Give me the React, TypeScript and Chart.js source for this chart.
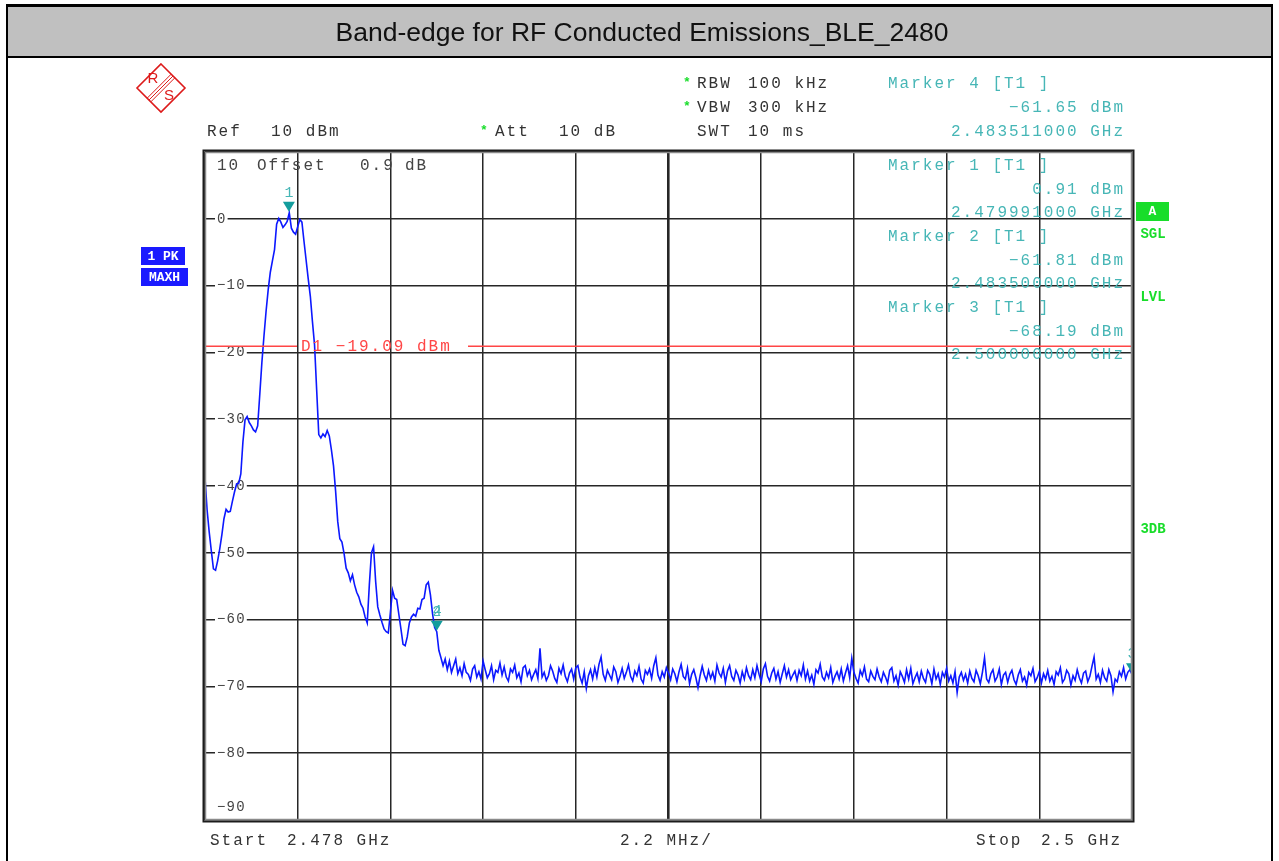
import React, { useEffect, useRef } from "react";
import { Chart, registerables } from "chart.js";

Chart.register(...registerables);

const TITLE = "Band-edge for RF Conducted Emissions_BLE_2480";
const START_MHZ = 2478;
const STOP_MHZ = 2500;
const SWEEP_STEP_MHZ = 0.05;
const X_GRID_MHZ = [2478, 2480.2, 2482.4, 2484.6, 2486.8, 2489, 2491.2, 2493.4, 2495.6, 2497.8, 2500];
const Y_GRID_DBM = [10, 0, -10, -20, -30, -40, -50, -60, -70, -80, -90];
const Y_TICK_LABELS = ["10", "0", "−10", "−20", "−30", "−40", "−50", "−60", "−70", "−80", "−90"];
const DISPLAY_LINE_DBM = -19.09;
const DISPLAY_LINE_LABEL = "D1 −19.09 dBm";
const MARKER_IDS = ["1", "2", "3", "4"];
const MARKER_FREQ_MHZ = [2479.991, 2483.5, 2500, 2483.511];
const MARKER_LEVEL_DBM = [0.91, -61.81, -68.19, -61.65];

// Max-hold trace, one value per sweep point (0.05 MHz apart from 2.478 GHz)
const TRACE_DBM = [
  -38.8, -43.6, -46.9, -49.7, -52.4, -52.6, -51.2, -49.4, -47.3, -44.9,
  -43.5, -43.9, -43.8, -42.3, -40.9, -39.7, -39.6, -38.2, -33.4, -30.1,
  -29.6, -30.5, -31.0, -31.6, -31.9, -31.0, -26.3, -21.5, -17.5, -13.8,
  -10.6, -8.0, -6.3, -4.6, -0.8, 0.05, -0.5, -1.3, -0.9, -0.4,
  0.91, -1.4, -2.0, -2.3, -1.2, -0.1, -0.5, -3.4, -6.2, -9.0,
  -11.6, -15.4, -18.9, -25.6, -32.3, -32.8, -32.2, -32.6, -31.7, -32.5,
  -34.6, -37.0, -40.8, -45.3, -47.9, -48.4, -50.1, -52.3, -53.0, -54.2,
  -53.3, -54.8, -55.9, -56.6, -57.7, -58.3, -59.6, -60.5, -54.8, -50.0,
  -49.1, -54.3, -58.1, -59.3, -60.4, -61.4, -61.8, -62.0, -58.9, -55.6,
  -56.8, -57.0, -59.2, -61.4, -63.7, -63.9, -62.6, -60.5, -59.6, -59.2,
  -59.5, -58.3, -58.4, -57.0, -56.8, -54.8, -54.4, -56.3, -59.1, -61.2,
  -61.81, -64.6, -65.7, -66.9, -65.9, -67.5, -66.2, -67.9, -66.9, -65.9, -68.1,
  -67.2, -68.4, -66.6, -67.9, -68.2, -69.1, -67.4, -66.9, -68.6, -67.8, -68.9, -66.2, -67.5, -68.7, -68.1, -66.9, -69.0, -67.6, -67.9, -66.5,
  -68.3, -67.1, -68.6, -69.2, -67.4, -67.9, -66.8, -68.7, -68.0, -69.3, -67.2, -66.9, -68.4, -67.6, -69.0, -68.2, -67.5, -68.8, -64.3, -68.6,
  -67.9, -69.1, -68.4, -66.9, -67.7, -68.8, -69.4, -67.3, -68.1, -66.8, -68.5, -69.3, -68.0, -67.4, -68.9, -67.2, -66.9, -68.6, -69.5, -67.8,
  -70.3, -68.4, -67.5, -68.9, -67.2, -68.6, -66.7, -65.6, -68.2, -69.1, -67.6, -68.3, -69.0, -67.1, -67.8, -69.4, -68.5, -67.3, -68.8, -67.9,
  -66.8, -68.5, -69.2, -67.7, -68.4, -67.0, -68.9, -69.5, -67.6, -68.2, -67.4, -68.8, -66.9, -65.7, -68.3, -69.1, -67.8, -68.6, -67.2, -68.0,
  -69.0, -67.4, -68.1, -69.3, -67.8, -66.7, -68.5, -68.9, -67.3, -69.6, -68.2, -67.5, -68.7, -70.2, -68.4, -67.0, -68.3, -69.1, -67.6, -68.8,
  -67.9, -69.2, -66.8, -68.0, -68.6, -67.3, -69.4, -67.7, -66.9, -68.5, -69.1, -67.6, -68.3, -69.5, -67.8, -68.9, -67.2, -68.4, -69.0, -67.5,
  -68.7, -66.9, -68.2, -69.3, -67.4, -66.6, -68.5, -69.2, -68.0, -67.3, -68.9, -67.8, -69.4, -68.1, -66.9, -68.6, -67.5, -69.0, -68.3, -67.7,
  -69.1, -67.6, -68.4, -66.8, -68.9, -67.7, -69.2, -68.3, -69.7, -67.5, -68.0, -66.7, -68.6, -69.1, -67.9, -68.7, -67.2, -69.4, -68.5, -67.8,
  -68.9, -67.4, -69.2, -68.0, -66.9, -68.7, -65.8, -67.9, -68.8, -69.5, -67.6, -68.4, -67.1, -68.9, -69.3, -67.7, -68.5, -69.0, -67.4, -68.6,
  -69.3, -67.9, -68.6, -69.5, -67.6, -67.2, -69.2, -68.4, -69.8, -67.8, -68.5, -69.4, -67.5, -68.9, -67.3, -69.6, -68.7, -68.0, -69.3, -67.7,
  -68.8, -69.4, -67.6, -68.2, -69.6, -67.4, -68.9, -68.1, -69.7, -67.9, -68.6, -67.3, -69.2, -68.4, -69.5, -67.8, -70.9, -68.6, -67.9, -69.1,
  -68.2, -69.5, -67.7, -68.8, -69.3, -67.6, -68.4, -69.6, -67.9, -65.7, -68.9, -69.4, -68.1, -67.5, -69.2, -68.6, -67.4, -69.7, -68.3, -67.9,
  -69.4, -68.2, -67.6, -69.0, -69.7, -68.3, -67.5, -69.2, -68.6, -69.8, -67.9, -68.4, -67.3, -69.3, -68.7, -67.8, -69.5, -68.1, -68.9, -67.6,
  -69.2, -68.5, -69.7, -67.8, -68.3, -67.2, -69.4, -68.9, -67.6, -68.1, -69.8, -68.4, -69.1, -67.5, -68.7, -69.5, -68.0, -67.7, -69.3, -68.5,
  -67.0, -65.6, -68.9, -68.2, -69.4, -67.6, -68.7, -69.2, -67.5, -68.4, -70.8, -68.9, -69.3, -67.8, -68.5, -67.2, -68.9, -67.9, -67.5, -68.19,
];

const MONO = '"Liberation Mono", "DejaVu Sans Mono", monospace';
const SANS = '"Liberation Sans", Arial, sans-serif';
const DARK = "#333333";
const TEAL = "#46b6b6";
const TEAL_MARK = "#139d9d";
const GREEN = "#18dd2a";
const BLUE_BOX = "#1a1aff";
const RED = "#ff4646";

function fmtLevel(v: number) {
  return v.toFixed(2).replace("-", "−") + " dBm";
}
function fmtFreq(mhz: number) {
  return (mhz / 1000).toFixed(9) + " GHz";
}

function txt(
  ctx: CanvasRenderingContext2D,
  s: string,
  x: number,
  y: number,
  color: string,
  font: string,
  align: CanvasTextAlign = "left",
  spacing = "0px"
) {
  ctx.save();
  ctx.font = font;
  ctx.fillStyle = color;
  ctx.textAlign = align;
  ctx.textBaseline = "middle";
  (ctx as any).letterSpacing = spacing;
  ctx.fillText(s, x, y);
  ctx.restore();
}

const HF = `16px ${MONO}`;
const HS = "2px";

const overlayPlugin = {
  id: "overlay",
  beforeDraw(chart: any) {
    const ctx: CanvasRenderingContext2D = chart.ctx;
    const W = chart.width;
    const H = chart.height;
    ctx.save();
    ctx.fillStyle = "#ffffff";
    ctx.fillRect(0, 0, W, H);
    ctx.fillStyle = "#c0c0c0";
    ctx.fillRect(7, 6, 1265, 51);
    ctx.fillStyle = "#000000";
    ctx.fillRect(6, 4, 1267, 3);
    ctx.fillRect(6, 56, 1267, 2);
    ctx.fillRect(6, 4, 2, H - 4);
    ctx.fillRect(1271, 4, 2, H - 4);
    ctx.restore();
    txt(ctx, TITLE, 642, 34, "#111111", `26.5px ${SANS}`, "center");
  },
  beforeDatasetsDraw(chart: any) {
    const ctx: CanvasRenderingContext2D = chart.ctx;
    const y = chart.scales.y;
    const yf = `14px ${MONO}`;
    Y_GRID_DBM.forEach((v, i) => {
      if (i === 0) return;
      let py = y.getPixelForValue(v);
      if (i === Y_GRID_DBM.length - 1) py -= 13;
      ctx.save();
      ctx.font = yf;
      (ctx as any).letterSpacing = "1.2px";
      const w = ctx.measureText(Y_TICK_LABELS[i]).width;
      ctx.fillStyle = "#ffffff";
      ctx.fillRect(215, py - 8, w + 3, 16);
      ctx.restore();
      txt(ctx, Y_TICK_LABELS[i], 217, py, "#444444", yf, "left", "1.2px");
    });
    txt(ctx, Y_TICK_LABELS[0], 217, 166, "#444444", HF, "left", HS);
    txt(ctx, "Offset", 257, 166, "#444444", HF, "left", HS);
    txt(ctx, "0.9", 360, 166, "#444444", HF, "left", HS);
    txt(ctx, "dB", 405, 166, "#444444", HF, "left", HS);
    const rows = [166, 237, 308];
    for (let k = 0; k < 3; k++) {
      const r = rows[k];
      txt(ctx, `Marker ${MARKER_IDS[k]} [T1 ]`, 888, r, TEAL, HF, "left", HS);
      txt(ctx, fmtLevel(MARKER_LEVEL_DBM[k]), 1125, r + 23.5, TEAL, HF, "right", HS);
      txt(ctx, fmtFreq(MARKER_FREQ_MHZ[k]), 1125, r + 47, TEAL, HF, "right", HS);
    }
  },
  afterDatasetsDraw(chart: any) {
    const ctx: CanvasRenderingContext2D = chart.ctx;
    const ca = chart.chartArea;
    const xs = chart.scales.x;
    const ys = chart.scales.y;

    const dy = ys.getPixelForValue(DISPLAY_LINE_DBM);
    ctx.save();
    ctx.strokeStyle = RED;
    ctx.lineWidth = 1.5;
    ctx.beginPath();
    ctx.moveTo(ca.left, dy);
    ctx.lineTo(297, dy);
    ctx.moveTo(468, dy);
    ctx.lineTo(ca.right, dy);
    ctx.stroke();
    ctx.restore();
    txt(ctx, DISPLAY_LINE_LABEL, 301, dy, RED, HF, "left", HS);

    ctx.save();
    ctx.beginPath();
    ctx.rect(ca.left, ca.top - 40, ca.right - ca.left, ca.bottom - ca.top + 40);
    ctx.clip();
    for (let k = 0; k < MARKER_IDS.length; k++) {
      const px = xs.getPixelForValue(MARKER_FREQ_MHZ[k]);
      const py = ys.getPixelForValue(MARKER_LEVEL_DBM[k]);
      if (k !== 3) {
        ctx.fillStyle = TEAL_MARK;
        ctx.beginPath();
        ctx.moveTo(px - 6, py - 11);
        ctx.lineTo(px + 6, py - 11);
        ctx.lineTo(px, py - 1);
        ctx.closePath();
        ctx.fill();
      }
      txt(ctx, MARKER_IDS[k], px, py - 20, TEAL, `15px ${MONO}`, "center");
    }
    ctx.restore();

    ctx.save();
    ctx.strokeStyle = "#1c1c1c";
    ctx.lineWidth = 2;
    ctx.strokeRect(ca.left - 1.5, ca.top - 1.5, ca.right - ca.left + 3, ca.bottom - ca.top + 3);
    ctx.strokeStyle = "#8a8a8a";
    ctx.lineWidth = 1.5;
    ctx.strokeRect(ca.left + 0.5, ca.top + 0.5, ca.right - ca.left - 1, ca.bottom - ca.top - 1);
    ctx.restore();

    txt(ctx, "Ref", 207, 132, DARK, HF, "left", HS);
    txt(ctx, "10 dBm", 271, 132, DARK, HF, "left", HS);
    txt(ctx, "*", 484, 131, GREEN, `bold 13px ${MONO}`, "center");
    txt(ctx, "Att", 495, 132, DARK, HF, "left", HS);
    txt(ctx, "10 dB", 559, 132, DARK, HF, "left", HS);
    txt(ctx, "*", 687, 83, GREEN, `bold 13px ${MONO}`, "center");
    txt(ctx, "*", 687, 107, GREEN, `bold 13px ${MONO}`, "center");
    txt(ctx, "RBW", 697, 84, DARK, HF, "left", HS);
    txt(ctx, "100 kHz", 748, 84, DARK, HF, "left", HS);
    txt(ctx, "VBW", 697, 108, DARK, HF, "left", HS);
    txt(ctx, "300 kHz", 748, 108, DARK, HF, "left", HS);
    txt(ctx, "SWT", 697, 132, DARK, HF, "left", HS);
    txt(ctx, "10 ms", 748, 132, DARK, HF, "left", HS);
    txt(ctx, `Marker ${MARKER_IDS[3]} [T1 ]`, 888, 84, TEAL, HF, "left", HS);
    txt(ctx, fmtLevel(MARKER_LEVEL_DBM[3]), 1125, 108, TEAL, HF, "right", HS);
    txt(ctx, fmtFreq(MARKER_FREQ_MHZ[3]), 1125, 132, TEAL, HF, "right", HS);

    txt(ctx, "Start", 210, 841, DARK, HF, "left", HS);
    txt(ctx, "2.478 GHz", 287, 841, DARK, HF, "left", HS);
    txt(ctx, "2.2 MHz/", 620, 841, DARK, HF, "left", HS);
    txt(ctx, "Stop", 976, 841, DARK, HF, "left", HS);
    txt(ctx, "2.5 GHz", 1041, 841, DARK, HF, "left", HS);

    ctx.save();
    ctx.fillStyle = BLUE_BOX;
    ctx.fillRect(141, 247, 44, 18);
    ctx.fillRect(141, 268, 47, 18);
    ctx.fillStyle = GREEN;
    ctx.fillRect(1136, 202, 33, 19);
    ctx.restore();
    txt(ctx, "1 PK", 163, 256.5, "#ffffff", `bold 13px ${MONO}`, "center");
    txt(ctx, "MAXH", 164.5, 277.5, "#ffffff", `bold 13px ${MONO}`, "center");
    txt(ctx, "A", 1152.5, 212, "#ffffff", `bold 13px ${MONO}`, "center");
    txt(ctx, "SGL", 1153, 234, GREEN, `bold 14px ${MONO}`, "center");
    txt(ctx, "LVL", 1153, 297, GREEN, `bold 14px ${MONO}`, "center");
    txt(ctx, "3DB", 1153, 529, GREEN, `bold 14px ${MONO}`, "center");

    const cx = 161, cy = 88, r = 24;
    ctx.save();
    ctx.strokeStyle = "#dd1a1a";
    ctx.lineWidth = 1.6;
    ctx.beginPath();
    ctx.moveTo(cx, cy - r);
    ctx.lineTo(cx + r, cy);
    ctx.lineTo(cx, cy + r);
    ctx.lineTo(cx - r, cy);
    ctx.closePath();
    ctx.stroke();
    ctx.lineWidth = 1;
    for (const d of [-2.6, 0, 2.6]) {
      const o = d / Math.SQRT2;
      ctx.beginPath();
      ctx.moveTo(cx - r / 2 + o, cy + r / 2 + o);
      ctx.lineTo(cx + r / 2 + o, cy - r / 2 + o);
      ctx.stroke();
    }
    ctx.restore();
    txt(ctx, "R", 153, 79, "#dd1a1a", `15px ${SANS}`, "center");
    txt(ctx, "S", 169, 96, "#dd1a1a", `15px ${SANS}`, "center");
  },
};

export default function App() {
  const ref = useRef<HTMLCanvasElement>(null);
  useEffect(() => {
    const canvas = ref.current;
    if (!canvas) return;
    const points = TRACE_DBM.map((v, i) => ({
      x: Math.round((START_MHZ + i * SWEEP_STEP_MHZ) * 1000) / 1000,
      y: v,
    }));
    const chart = new Chart(canvas, {
      type: "line",
      data: {
        datasets: [
          {
            data: points,
            borderColor: "#0c18ff",
            borderWidth: 1.6,
            pointRadius: 0,
            tension: 0,
            fill: false,
          },
        ],
      },
      options: {
        responsive: false,
        animation: false,
        devicePixelRatio: 1,
        layout: { padding: { left: 205, top: 152, right: 147, bottom: 41 } },
        plugins: {
          legend: { display: false },
          tooltip: { enabled: false },
          title: { display: false },
        },
        scales: {
          x: {
            type: "linear",
            min: START_MHZ,
            max: STOP_MHZ,
            afterBuildTicks: (s: any) => {
              s.ticks = X_GRID_MHZ.map((v) => ({ value: v }));
            },
            ticks: { display: false },
            grid: {
              color: "#262626",
              lineWidth: (c: any) => (c.index === 5 ? 2.6 : 1.5),
              drawTicks: false,
            },
            border: { display: false },
          },
          y: {
            type: "linear",
            min: -90,
            max: 10,
            afterBuildTicks: (s: any) => {
              s.ticks = Y_GRID_DBM.map((v) => ({ value: v }));
            },
            ticks: { display: false },
            grid: { color: "#262626", lineWidth: 1.5, drawTicks: false },
            border: { display: false },
          },
        },
      } as any,
      plugins: [overlayPlugin as any],
    });
    return () => chart.destroy();
  }, []);
  return (
    <div style={{ position: "absolute", left: 0, top: 0, width: 1279, height: 861, background: "#fff" }}>
      <canvas ref={ref} width={1279} height={861} style={{ display: "block" }} />
    </div>
  );
}
